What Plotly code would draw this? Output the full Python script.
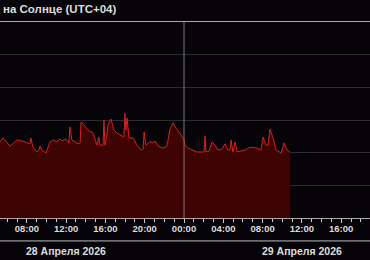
import plotly.graph_objects as go

# Time series (local time UTC+04) and values
times = [
    "2026-04-28 04:45", "2026-04-28 05:16", "2026-04-28 05:34", "2026-04-28 05:46",
    "2026-04-28 06:17", "2026-04-28 06:35", "2026-04-28 07:00", "2026-04-28 07:30",
    "2026-04-28 08:01", "2026-04-28 08:19", "2026-04-28 08:25", "2026-04-28 08:37",
    "2026-04-28 09:02", "2026-04-28 09:14", "2026-04-28 09:20", "2026-04-28 09:32",
    "2026-04-28 09:57", "2026-04-28 10:21", "2026-04-28 10:40", "2026-04-28 11:04",
    "2026-04-28 11:22", "2026-04-28 11:35", "2026-04-28 11:59", "2026-04-28 12:17",
    "2026-04-28 12:23", "2026-04-28 12:35", "2026-04-28 13:13", "2026-04-28 13:25",
    "2026-04-28 13:31", "2026-04-28 13:43", "2026-04-28 14:13", "2026-04-28 14:44",
    "2026-04-28 15:08", "2026-04-28 15:20", "2026-04-28 15:26", "2026-04-28 15:45",
    "2026-04-28 15:51", "2026-04-28 15:57", "2026-04-28 16:09", "2026-04-28 16:16",
    "2026-04-28 16:34", "2026-04-28 16:52", "2026-04-28 17:11", "2026-04-28 17:35",
    "2026-04-28 17:53", "2026-04-28 17:59", "2026-04-28 18:05", "2026-04-28 18:12",
    "2026-04-28 18:24", "2026-04-28 18:49", "2026-04-28 19:13", "2026-04-28 19:37",
    "2026-04-28 19:50", "2026-04-28 19:56", "2026-04-28 20:08", "2026-04-28 20:32",
    "2026-04-28 20:50", "2026-04-28 21:03", "2026-04-28 21:21", "2026-04-28 21:52",
    "2026-04-28 22:16", "2026-04-28 22:34", "2026-04-28 22:53", "2026-04-28 23:11",
    "2026-04-28 23:35", "2026-04-29 00:00", "2026-04-29 00:06", "2026-04-29 00:24",
    "2026-04-29 00:49", "2026-04-29 01:19", "2026-04-29 01:56", "2026-04-29 02:02",
    "2026-04-29 02:08", "2026-04-29 02:14", "2026-04-29 02:33", "2026-04-29 02:51",
    "2026-04-29 03:09", "2026-04-29 03:28", "2026-04-29 03:52", "2026-04-29 04:11",
    "2026-04-29 04:29", "2026-04-29 04:41", "2026-04-29 04:47", "2026-04-29 04:59",
    "2026-04-29 05:12", "2026-04-29 05:24", "2026-04-29 05:48", "2026-04-29 06:13",
    "2026-04-29 06:43", "2026-04-29 07:26", "2026-04-29 07:50", "2026-04-29 08:03",
    "2026-04-29 08:21", "2026-04-29 08:33", "2026-04-29 08:45", "2026-04-29 09:04",
    "2026-04-29 09:22", "2026-04-29 09:53", "2026-04-29 10:11", "2026-04-29 10:29",
    "2026-04-29 10:47",
]
values = [
    2.33, 2.33, 2.45, 2.39,
    2.20, 2.27, 2.39, 2.36,
    2.30, 2.27, 2.45, 2.17,
    2.02, 2.08, 2.20, 2.08,
    1.99, 2.33, 2.39, 2.33,
    2.42, 2.36, 2.42, 2.30,
    2.79, 2.39, 2.27, 2.30,
    2.94, 2.88, 2.69, 2.60,
    2.23, 2.48, 2.23, 2.23,
    3.00, 2.23, 2.54, 2.85,
    3.03, 2.69, 2.60, 2.54,
    2.48, 3.21, 2.69, 3.06,
    2.45, 2.45, 2.23, 2.08,
    2.11, 2.63, 2.23, 2.33,
    2.30, 2.36, 2.20, 2.14,
    2.20, 2.72, 2.91, 2.75,
    2.60, 2.39, 2.23, 2.14,
    2.08, 2.02, 2.02, 2.02,
    2.51, 2.02, 2.05, 2.33,
    2.23, 2.08, 2.11, 2.27,
    2.08, 2.08, 2.39, 2.02,
    2.33, 2.02, 2.05, 2.08,
    2.17, 2.14, 2.08, 2.48,
    2.23, 2.23, 2.72, 2.45,
    2.08, 1.99, 2.30, 2.08,
    2.02,
]

x_range = ["2026-04-28 05:16", "2026-04-29 18:56"]
day_boundary = "2026-04-29 00:00"
date_labels = ["28 Апреля 2026", "29 Апреля 2026"]
date_label_pos = ["2026-04-28 12:00", "2026-04-29 12:00"]
title_text = "на Солнце (UTC+04)"

BG = "#060408"
TXT = "#dddddd"
FONT = "Liberation Sans"

fig = go.Figure()
fig.add_trace(go.Scatter(
    x=times, y=values, mode="lines",
    line=dict(color="#d42222", width=1),
    fill="tozeroy", fillcolor="#3e0303",
    hoverinfo="skip", showlegend=False,
))

annotations = [
    dict(text=title_text, xref="paper", yref="paper", x=0, y=1,
         xanchor="left", yanchor="middle", xshift=1, yshift=13, showarrow=False,
         font=dict(family=FONT, size=11.5, color=TXT, weight="bold")),
]
for lbl, pos in zip(date_labels, date_label_pos):
    annotations.append(dict(
        text=lbl, xref="x", yref="paper", x=pos, y=0,
        xanchor="center", yanchor="middle", yshift=-33, showarrow=False,
        font=dict(family=FONT, size=10.5, color=TXT, weight="bold")))

shapes = [
    dict(type="line", xref="x", yref="paper", x0=day_boundary, x1=day_boundary,
         y0=0, y1=1, line=dict(color="#7a7a7a", width=1), layer="above"),
    dict(type="line", xref="paper", yref="paper", x0=0, x1=1,
         y0=-0.117, y1=-0.117, line=dict(color="#bbbbbb", width=1)),
]

fig.update_layout(
    width=370, height=260,
    margin=dict(l=0, r=0, t=22, b=42),
    paper_bgcolor=BG, plot_bgcolor=BG,
    annotations=annotations, shapes=shapes,
    xaxis=dict(
        type="date", range=x_range,
        tick0="2026-04-28 00:00", dtick=4 * 3600000, tickformat="%H:%M",
        ticks="outside", ticklen=4, tickcolor="#cccccc",
        ticklabelstandoff=-2,
        showline=True, mirror=True, linecolor="#aaaaaa", linewidth=1,
        showgrid=False, zeroline=False,
        tickfont=dict(family=FONT, size=9.5, color=TXT, weight="bold"),
        minor=dict(dtick=3600000, ticks="outside", ticklen=3,
                   tickcolor="#cccccc", showgrid=False),
    ),
    yaxis=dict(
        range=[0, 6], dtick=1, showticklabels=False,
        gridcolor="#2c2c31", gridwidth=1, zeroline=False, showline=False,
        ticks="",
    ),
)

fig.write_html("out.html", config={"displayModeBar": False})
